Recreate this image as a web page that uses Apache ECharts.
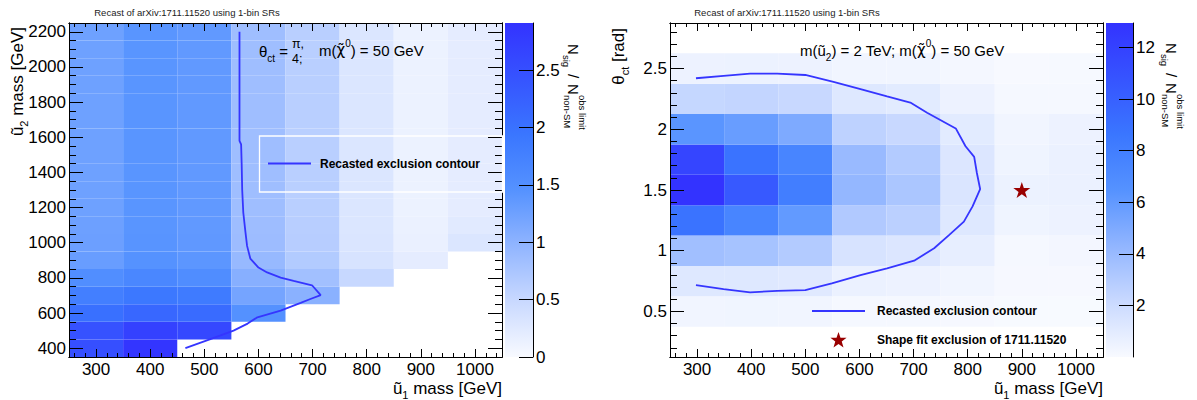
<!DOCTYPE html>
<html><head><meta charset="utf-8">
<script src="https://cdn.jsdelivr.net/npm/echarts@6/dist/echarts.min.js"></script>
<style>html,body{margin:0;padding:0;background:#fff;}#c{width:1197px;height:400px;}</style>
</head><body><div id="c"></div>
<script>
// ---------------- data ----------------
const massX = [300, 400, 500, 600, 700, 800, 900, 1000];            // u1 mass bin centres
const massU2 = [400, 500, 600, 700, 800, 900, 1000, 1100, 1200, 1300, 1400, 1500, 1600, 1700, 1800, 1900, 2000, 2100, 2200];
const thetaBins = [0.5, 0.75, 1.0, 1.25, 1.5, 1.75, 2.0, 2.25, 2.5];
// left: rows follow massU2, columns follow massX (null = empty bin)
const leftZ = [
  [2.50, 2.88, null, null, null, null, null, null],
  [2.45, 2.70, 2.60, null, null, null, null, null],
  [2.02, 2.15, 2.10, 1.48, null, null, null, null],
  [1.78, 1.90, 1.85, 1.20, 1.03, null, null, null],
  [1.52, 1.65, 1.55, 1.05, 0.82, 0.50, null, null],
  [1.30, 1.46, 1.40, 0.92, 0.68, 0.34, 0.20, null],
  [1.27, 1.43, 1.37, 0.87, 0.64, 0.31, 0.14, 0.30],
  [1.26, 1.42, 1.36, 0.86, 0.63, 0.30, 0.13, 0.24],
  [1.25, 1.42, 1.36, 0.85, 0.62, 0.30, 0.12, 0.20],
  [1.25, 1.42, 1.36, 0.85, 0.62, 0.30, 0.12, 0.20],
  [1.25, 1.42, 1.36, 0.85, 0.62, 0.30, 0.12, 0.20],
  [1.25, 1.42, 1.36, 0.85, 0.62, 0.30, 0.12, 0.20],
  [1.25, 1.42, 1.36, 0.85, 0.62, 0.30, 0.12, 0.20],
  [1.25, 1.42, 1.36, 0.85, 0.62, 0.30, 0.12, 0.20],
  [1.25, 1.42, 1.36, 0.85, 0.62, 0.30, 0.12, 0.20],
  [1.25, 1.42, 1.36, 0.85, 0.62, 0.30, 0.12, 0.20],
  [1.25, 1.42, 1.36, 0.85, 0.62, 0.30, 0.12, 0.20],
  [1.25, 1.42, 1.36, 0.85, 0.62, 0.30, 0.12, 0.20],
  [1.25, 1.42, 1.36, 0.85, 0.62, 0.30, 0.12, 0.20]
];
// right: rows follow thetaBins, columns follow massX
const rightZ = [
  [0.30, 0.35, 0.30, 0.15, 0.15, 0.10, 0.03, 0.03],
  [1.20, 1.20, 1.10, 0.60, 0.50, 0.30, 0.10, 0.10],
  [3.70, 3.50, 3.00, 1.50, 1.30, 0.80, 0.15, 0.25],
  [8.80, 7.50, 6.00, 3.10, 2.70, 1.20, 0.40, 0.50],
  [12.95, 10.5, 8.00, 4.20, 3.30, 1.40, 0.55, 0.60],
  [11.8, 8.80, 7.50, 4.00, 3.00, 1.30, 0.40, 0.60],
  [6.30, 5.80, 5.00, 2.60, 2.20, 1.00, 0.30, 0.50],
  [2.30, 2.40, 2.20, 1.20, 1.00, 0.50, 0.15, 0.15],
  [0.50, 0.55, 0.50, 0.30, 0.30, 0.20, 0.06, 0.08]
];
const leftContour = [[465,400],[510,450],[554,500],[580,540],[598,576],[641,614],[678,658],[696,680],[715,702],[699,758],[665,783],[641,802],[616,831],[600,859],[585,910],[579,982],[576,1060],[572,1172],[570,1300],[569,1450],[568,1560],[565,1580],[565,2200]];
const rightContour = [[298,2.42],[349,2.44],[398,2.459],[448,2.459],[500,2.447],[552,2.39],[602,2.33],[651,2.27],[694,2.22],[725,2.136],[778,2.007],[796,1.86],[812,1.773],[817,1.64],[823,1.508],[809,1.365],[793,1.24],[766,1.13],[738,1.02],[701,0.918],[651,0.855],[602,0.80],[549,0.731],[500,0.676],[448,0.67],[398,0.657],[349,0.684],[298,0.717]];
const starPoint = [[900, 1.5]];
const massTicks = [300, 400, 500, 600, 700, 800, 900, 1000];
const u2Ticks = [400, 600, 800, 1000, 1200, 1400, 1600, 1800, 2000, 2200];
const thetaTicks = [0.5, 1, 1.5, 2, 2.5];
const leftCbTicks = [0, 0.5, 1, 1.5, 2, 2.5];
const rightCbTicks = [2, 4, 6, 8, 10, 12];
const LEFT_MAX = 2.91, RIGHT_MAX = 12.95;

// ---------------- style ----------------
const FONT = '"Liberation Sans", Arial, Helvetica, sans-serif';
const palette = ['#f8faff', '#c9d9ff', '#91b5ff', '#5592ff', '#3a76ff', '#3654ff', '#3333ff'];
const LINE_BLUE = '#3535ff';
const STAR_RED = '#990000';

function rng(a, b, step, skip) {
  const out = [];
  for (let v = a; v <= b + 1e-9; v += step) {
    const r = Math.round(v * 1000) / 1000;
    if (!skip.some(s => Math.abs(s - r) < 1e-6)) out.push(r);
  }
  return out;
}
const massMinor = rng(260, 1040, 20, massTicks);
const u2Minor = rng(450, 2200, 50, u2Ticks);
const thetaMinor = rng(0.2, 2.8, 0.1, thetaTicks);

function axis(dim, grid, pos, min, max, ticks, len, labels) {
  return {
    type: 'value', gridIndex: grid, position: pos, min: min, max: max, z: 10,
    axisLine: { show: true, onZero: false, lineStyle: { color: '#000', width: 1 } },
    axisTick: { show: true, inside: true, length: len, customValues: ticks, lineStyle: { color: '#000', width: 1 } },
    axisLabel: labels ? { show: true, customValues: ticks, fontSize: 17, fontFamily: FONT, color: '#000',
      margin: dim === 'x' ? 4 : 3, formatter: v => String(v) } : { show: false },
    splitLine: { show: false }, minorTick: { show: false }, minorSplitLine: { show: false }
  };
}

function heatData(rowsVals, ys, xs) {
  const d = [];
  rowsVals.forEach((row, i) => row.forEach((v, j) => { if (v !== null) d.push([xs[j], ys[i], v]); }));
  return d;
}

function heatRender(dx, dy) {
  return function (params, api) {
    const x = api.value(0), y = api.value(1);
    const p0 = api.coord([x - dx / 2, y + dy / 2]);
    const p1 = api.coord([x + dx / 2, y - dy / 2]);
    return { type: 'rect', shape: { x: p0[0], y: p0[1], width: p1[0] - p0[0], height: p1[1] - p0[1] },
      style: { fill: api.visual('color') } };
  };
}
function cbRender(params, api) {
  const a = api.coord([0, api.value(1)]);
  const b = api.coord([1, api.value(0)]);
  const stops = palette.map((c, i) => ({ offset: i / (palette.length - 1), color: c }));
  return { type: 'rect', shape: { x: a[0], y: a[1], width: b[0] - a[0], height: b[1] - a[1] },
    style: { fill: new echarts.graphic.LinearGradient(0, 1, 0, 0, stops) } };
}

const STAR_PATH = 'path://M50,0L61.2,34.5L97.6,34.5L68.2,55.9L79.4,90.5L50,69.1L20.6,90.5L31.8,55.9L2.4,34.5L38.8,34.5Z';
function starPts(cx, cy, R, r) {
  const p = [];
  for (let k = 0; k < 10; k++) {
    const a = -Math.PI / 2 + k * Math.PI / 5, rad = k % 2 ? r : R;
    p.push([cx + rad * Math.cos(a), cy + rad * Math.sin(a)]);
  }
  return p;
}

function rich(fs) {
  return {
    n: { fontSize: fs, fontFamily: FONT, lineHeight: 24, verticalAlign: 'middle', fill: '#000' },
    g: { fontSize: fs, fontFamily: '"DejaVu Sans", sans-serif', lineHeight: 24, verticalAlign: 'middle', fill: '#000' },
    s: { fontSize: Math.round(fs * 0.65), fontFamily: FONT, lineHeight: 12, verticalAlign: 'bottom', fill: '#000' },
    p: { fontSize: Math.round(fs * 0.65), fontFamily: FONT, lineHeight: 8, verticalAlign: 'top', fill: '#000' }
  };
}
function rtext(x, y, text, fs, align, rot) {
  return { type: 'text', x: x, y: y, rotation: rot || 0, z: 100,
    style: { text: text, rich: rich(fs), fontSize: fs, fontFamily: FONT, fill: '#000',
      align: align, textAlign: align, verticalAlign: 'middle', textVerticalAlign: 'middle' } };
}
function ptext(x, y, text, fs, opts) {
  opts = opts || {};
  return { type: 'text', x: x, y: y, z: 100,
    style: { text: text, fontSize: fs, fontFamily: FONT, fontWeight: opts.bold ? 'bold' : 'normal', fill: opts.fill || '#000',
      align: opts.align || 'left', textAlign: opts.align || 'left', verticalAlign: 'middle', textVerticalAlign: 'middle' } };
}
function cbTitle(x, y) {
  return { type: 'group', x: x, y: y, rotation: -Math.PI / 2, z: 100, children: [
    ptext(0, 0, 'N', 15), ptext(11, 7, 'sig', 9.5), ptext(30, 0, '/', 15),
    ptext(40, 0, 'N', 15), ptext(51, 6, 'non-SM', 9.5), ptext(51, -9, 'obs limit', 9.5)
  ] };
}

const graphics = [
  ptext(187, 12, 'Recast of arXiv:1711.11520 using 1-bin SRs', 9.5, { align: 'center', fill: '#222' }),
  ptext(787, 12, 'Recast of arXiv:1711.11520 using 1-bin SRs', 9.5, { align: 'center', fill: '#222' }),
  rtext(17, 27, '{n|ũ}{s|2}{n| mass [GeV]}', 17, 'right', Math.PI / 2),
  rtext(502, 388, '{n|ũ}{s|1}{n| mass [GeV]}', 17, 'right'),
  rtext(618, 28, '{n|θ}{s|ct}{n| [rad]}', 17, 'right', Math.PI / 2),
  rtext(1103, 388, '{n|ũ}{s|1}{n| mass [GeV]}', 17, 'right'),
  rtext(259, 51, '{n|θ}{s|ct}{n| =}', 15, 'left'),
  ptext(292, 44, 'π,', 12.5),
  ptext(292, 59, '4;', 12.5),
  rtext(319, 50, '{n|m(}{g|χ̃}{p|0}{n|) = 50 GeV}', 15, 'left'),
  rtext(800, 50, '{n|m(ũ}{s|2}{n|) = 2 TeV; m(}{g|χ̃}{p|0}{n|) = 50 GeV}', 15, 'left'),
  cbTitle(573, 44),
  cbTitle(1171, 43),
  { type: 'rect', z: 100, shape: { x: 259.5, y: 136, width: 243, height: 56 }, style: { fill: 'none', stroke: '#fff', lineWidth: 1.3 } },
  { type: 'line', z: 100, shape: { x1: 268, y1: 163.5, x2: 311, y2: 163.5 }, style: { stroke: LINE_BLUE, lineWidth: 1.8 } },
  ptext(320, 163.5, 'Recasted exclusion contour', 12, { bold: true }),
  { type: 'line', z: 100, shape: { x1: 812, y1: 311, x2: 865, y2: 311 }, style: { stroke: LINE_BLUE, lineWidth: 1.8 } },
  ptext(877, 311, 'Recasted exclusion contour', 12, { bold: true }),
  { type: 'polygon', z: 100, shape: { points: starPts(838.5, 340.5, 8.5, 3.4) }, style: { fill: STAR_RED } },
  ptext(877, 340, 'Shape fit exclusion of 1711.11520', 12, { bold: true })
];

const option = {
  animation: false,
  backgroundColor: '#fff',
  grid: [
    { left: 69, top: 23, width: 433, height: 334, outerBoundsMode: 'none' },
    { left: 670, top: 23, width: 433, height: 334, outerBoundsMode: 'none' },
    { left: 505, top: 23, width: 28, height: 334, outerBoundsMode: 'none' },
    { left: 1106, top: 23, width: 27, height: 334, outerBoundsMode: 'none' }
  ],
  xAxis: [
    axis('x', 0, 'bottom', 250, 1050, massTicks, 8, true),
    axis('x', 0, 'bottom', 250, 1050, massMinor, 4, false),
    axis('x', 0, 'top', 250, 1050, massTicks, 8, false),
    axis('x', 0, 'top', 250, 1050, massMinor, 4, false),
    axis('x', 1, 'bottom', 250, 1050, massTicks, 8, true),
    axis('x', 1, 'bottom', 250, 1050, massMinor, 4, false),
    axis('x', 1, 'top', 250, 1050, massTicks, 8, false),
    axis('x', 1, 'top', 250, 1050, massMinor, 4, false),
    { type: 'value', gridIndex: 2, min: 0, max: 1, show: false },
    { type: 'value', gridIndex: 3, min: 0, max: 1, show: false }
  ],
  yAxis: [
    axis('y', 0, 'left', 350, 2250, u2Ticks, 14, true),
    axis('y', 0, 'left', 350, 2250, u2Minor, 7, false),
    axis('y', 0, 'right', 350, 2250, u2Ticks, 14, false),
    axis('y', 0, 'right', 350, 2250, u2Minor, 7, false),
    axis('y', 1, 'left', 0.125, 2.875, thetaTicks, 14, true),
    axis('y', 1, 'left', 0.125, 2.875, thetaMinor, 7, false),
    axis('y', 1, 'right', 0.125, 2.875, thetaTicks, 14, false),
    axis('y', 1, 'right', 0.125, 2.875, thetaMinor, 7, false),
    axis('y', 2, 'right', 0, LEFT_MAX, leftCbTicks, 14, true),
    axis('y', 3, 'right', 0, RIGHT_MAX, rightCbTicks, 14, true)
  ],
  visualMap: [
    { type: 'continuous', show: false, seriesIndex: 0, dimension: 2, min: 0, max: LEFT_MAX, inRange: { color: palette } },
    { type: 'continuous', show: false, seriesIndex: 2, dimension: 2, min: 0, max: RIGHT_MAX, inRange: { color: palette } }
  ],
  series: [
    { type: 'custom', xAxisIndex: 0, yAxisIndex: 0, renderItem: heatRender(100, 100), data: heatData(leftZ, massU2, massX), z: 1 },
    { type: 'line', xAxisIndex: 0, yAxisIndex: 0, data: leftContour, symbol: 'none', lineStyle: { color: LINE_BLUE, width: 1.8 }, z: 5 },
    { type: 'custom', xAxisIndex: 4, yAxisIndex: 4, renderItem: heatRender(100, 0.25), data: heatData(rightZ, thetaBins, massX), z: 1 },
    { type: 'line', xAxisIndex: 4, yAxisIndex: 4, data: rightContour, symbol: 'none', lineStyle: { color: LINE_BLUE, width: 1.8 }, z: 5 },
    { type: 'scatter', xAxisIndex: 4, yAxisIndex: 4, data: starPoint, symbol: STAR_PATH, symbolKeepAspect: true, symbolSize: 17, itemStyle: { color: STAR_RED, opacity: 1 }, z: 6 },
    { type: 'custom', xAxisIndex: 8, yAxisIndex: 8, renderItem: cbRender, data: [[0, LEFT_MAX]], z: 1 },
    { type: 'custom', xAxisIndex: 9, yAxisIndex: 9, renderItem: cbRender, data: [[0, RIGHT_MAX]], z: 1 }
  ],
  graphic: graphics
};

const chart = echarts.init(document.getElementById('c'), null, { renderer: 'svg' });
chart.setOption(option);
</script></body></html>
